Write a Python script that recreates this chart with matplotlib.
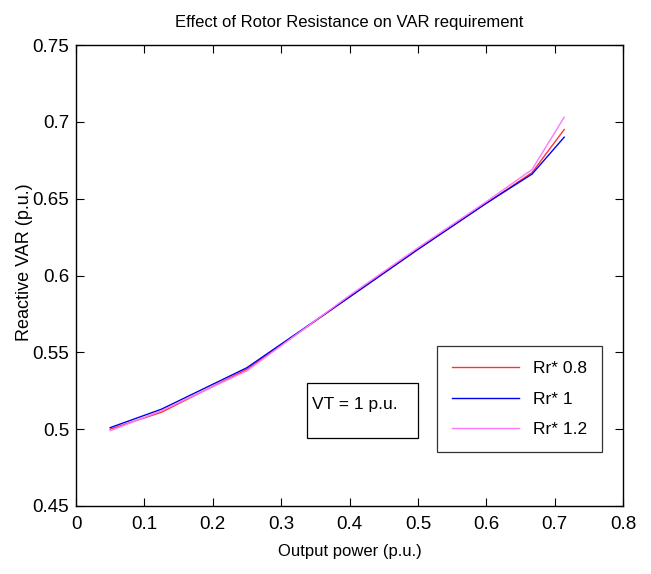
import matplotlib
matplotlib.use("Agg")
import matplotlib.pyplot as plt
from matplotlib.patches import Rectangle

x_power = [0.05, 0.125, 0.25, 0.4, 0.5, 0.6, 0.667, 0.714]
y_r08 = [0.500, 0.511, 0.539, 0.586, 0.617, 0.647, 0.667, 0.695]
y_r10 = [0.501, 0.513, 0.540, 0.586, 0.617, 0.647, 0.666, 0.690]
y_r12 = [0.499, 0.512, 0.538, 0.587, 0.618, 0.648, 0.669, 0.703]
labels = ["Rr* 0.8", "Rr* 1", "Rr* 1.2"]
xticks = [0, 0.1, 0.2, 0.3, 0.4, 0.5, 0.6, 0.7, 0.8]
yticks = [0.45, 0.5, 0.55, 0.6, 0.65, 0.7, 0.75]

font = "Liberation Sans"

fig = plt.figure(figsize=(6.51, 5.74), dpi=100)
ax = fig.add_axes([76/651, 68/574, 547/651, 461/574])

ax.plot(x_power, y_r08, color="#ff3333", lw=1.0, label=labels[0])
ax.plot(x_power, y_r10, color="#0000ee", lw=1.0, label=labels[1])
ax.plot(x_power, y_r12, color="#ff77ff", lw=1.0, label=labels[2])

ax.set_xlim(0, 0.8)
ax.set_ylim(0.45, 0.75)
ax.set_xticks(xticks)
ax.set_xticklabels([f"{t:g}" for t in xticks])
ax.set_yticks(yticks)
ax.set_yticklabels([f"{t:g}" for t in yticks])
ax.tick_params(direction="in", top=True, right=True, length=6, width=0.8,
               labelsize=13.5, pad=5)
ax.tick_params(axis="x", pad=7)
for lab in ax.get_xticklabels() + ax.get_yticklabels():
    lab.set_family(font)
for s in ax.spines.values():
    s.set_linewidth(1.0)

ax.set_title("Effect of Rotor Resistance on VAR requirement", fontsize=12,
             family=font, pad=13)
ax.set_xlabel("Output power (p.u.)", fontsize=12, family=font, labelpad=8)
ax.set_ylabel("Reactive VAR (p.u.)", fontsize=13, family=font)
ax.yaxis.set_label_coords(-0.078, 0.529)

leg = ax.legend(loc="upper right", bbox_to_anchor=(0.962, 0.347),
                prop={"family": font, "size": 12.5}, frameon=True,
                fancybox=False, edgecolor="black", handlelength=3.9,
                handletextpad=0.8, labelspacing=0.9, borderpad=0.85,
                borderaxespad=0)
leg.get_frame().set_linewidth(0.9)

bx0 = (307 - 76) / 547
bx1 = (418 - 76) / 547
by0 = (506 - 438) / 461
by1 = (506 - 383) / 461
ax.add_patch(Rectangle((bx0, by0), bx1 - bx0, by1 - by0, transform=ax.transAxes,
                       fill=False, edgecolor="black", lw=0.9))
ax.text((312 - 76) / 547, (506 - 404) / 461, "VT = 1 p.u.", transform=ax.transAxes,
        fontsize=12.5, family=font, va="center", ha="left")

fig.savefig("out.png", dpi=100)
